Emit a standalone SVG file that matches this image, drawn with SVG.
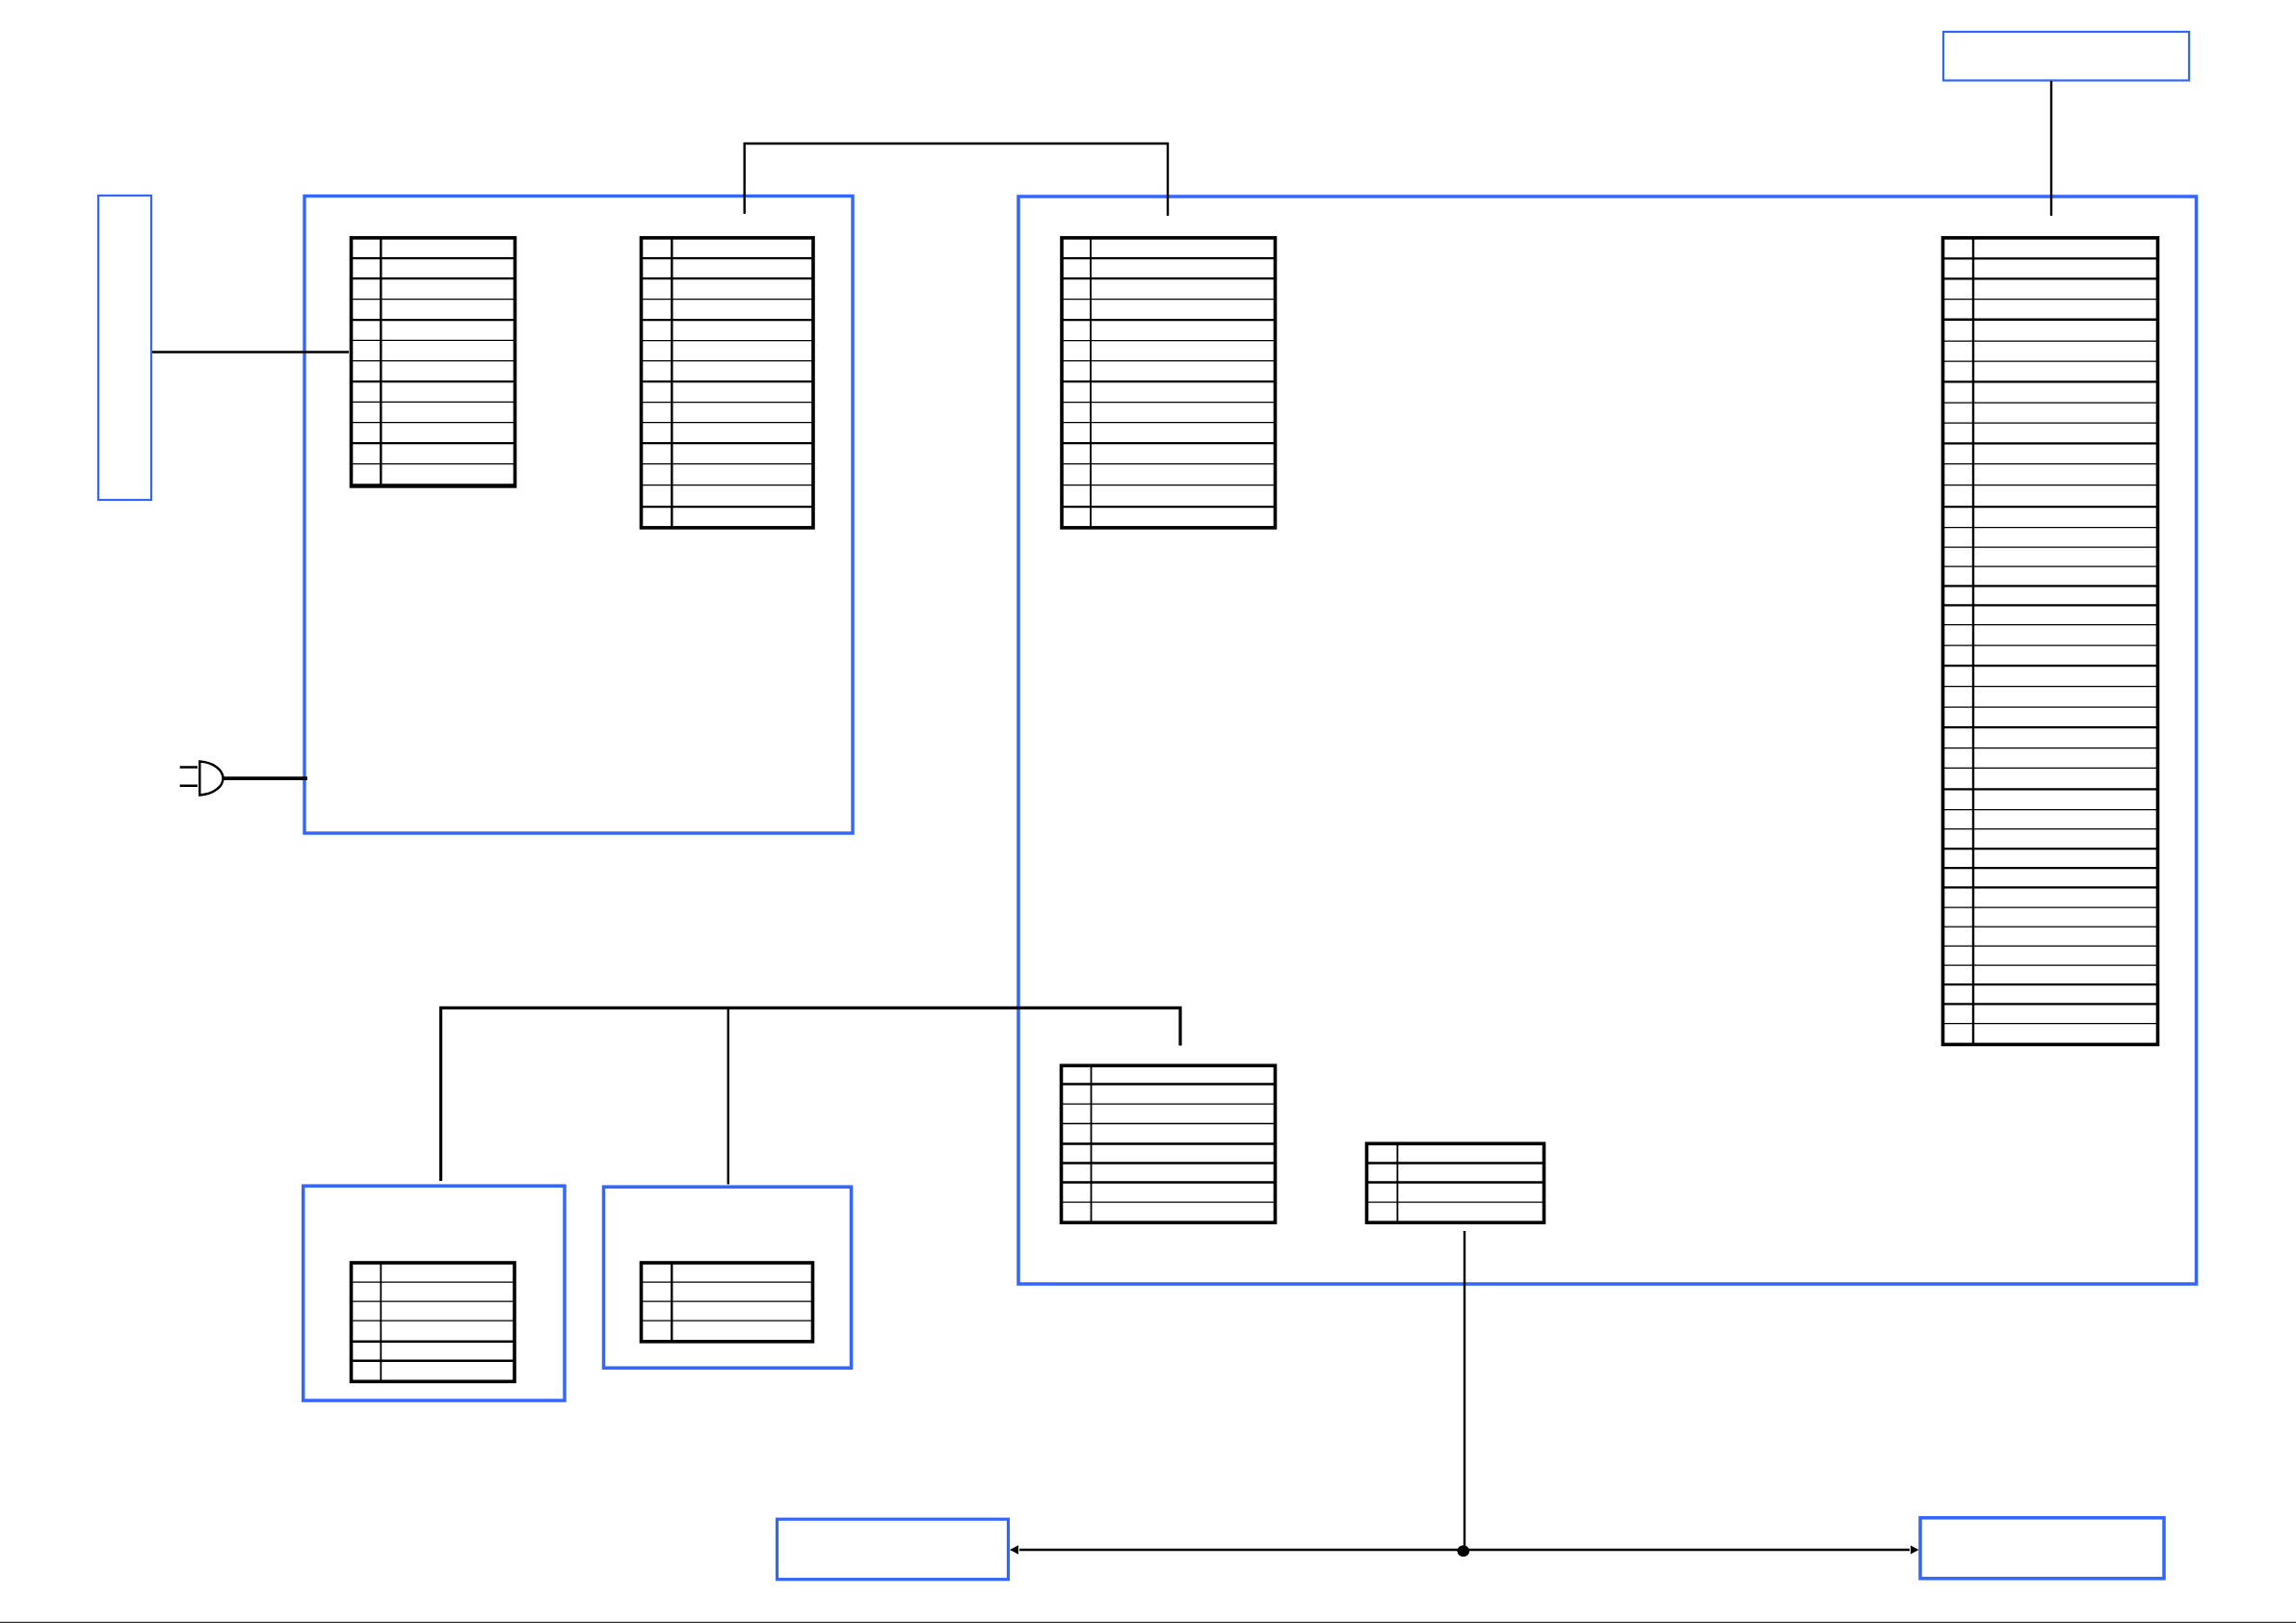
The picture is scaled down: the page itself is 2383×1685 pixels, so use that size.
<svg xmlns="http://www.w3.org/2000/svg" width="2383" height="1685" viewBox="0 0 2383 1685">
<style>
.b{fill:none;stroke:#3366ff;stroke-width:3.5}
.b2{fill:none;stroke:#3366ff;stroke-width:2.2}
.f{fill:none;stroke:#000;stroke-width:3.6}
.c{fill:none;stroke:#000;stroke-width:2.4}
.n{fill:none;stroke:#000;stroke-width:1.3}
.t{fill:none;stroke:#000;stroke-width:2.4}
.k{fill:none;stroke:#000;stroke-width:3.2}
</style>
<defs>
<marker id="ah" markerUnits="userSpaceOnUse" markerWidth="10" markerHeight="10" refX="9" refY="4.7" orient="auto-start-reverse"><path d="M0 0L9 4.7L0 9.4Z" fill="#000"/></marker>
</defs>
<rect width="2383" height="1685" fill="#fff"/>
<g id="box-left"><rect class="b2" x="102" y="203" width="55" height="316"/></g>
<g id="box-top-right"><rect class="b2" x="2017" y="33" width="255" height="50.5"/></g>
<g id="box-main-a"><rect class="b" x="316" y="203.5" width="569" height="661.5" style="stroke-width:3.4"/></g>
<g id="box-main-b"><rect class="b" x="1057" y="204" width="1222.5" height="1129"/></g>
<g id="box-c"><rect class="b" x="314.7" y="1231.2" width="271.3" height="222.8"/></g>
<g id="box-d"><rect class="b" x="626.5" y="1232.2" width="257" height="188"/></g>
<g id="box-bottom-left"><rect class="b" x="806.5" y="1577.2" width="240" height="62.5" style="stroke-width:3.2"/></g>
<g id="box-bottom-right"><rect class="b" x="1993" y="1575.8" width="253" height="63"/></g>

<g id="connectors">
<path class="c" d="M158 365.5H362"/>
<path class="c" d="M772.7 222V149H1212V224"/>
<path class="c" d="M2129 84V224"/>
<path class="k" d="M457.5 1226V1046.4H1225V1085.5"/>
<path class="c" d="M755.8 1046.4V1229.5"/>
<path class="c" d="M1520 1278V1609"/>
<path class="c" d="M1058 1609H1982" style="stroke-width:2.6"/>
<path d="M1519 1609H1048" fill="none" marker-end="url(#ah)"/>
<path d="M1519 1609H1991.5" fill="none" marker-end="url(#ah)"/>
<ellipse cx="1518.8" cy="1610.3" rx="6.3" ry="6" fill="#000"/>
<path d="M231 808.2H319" class="k" style="stroke-width:3.8"/>
</g>

<g id="plug">
<path d="M207.3 790.5V825.5C222 824.5 231.5 816.5 231.5 808C231.5 799.5 222 791.5 207.3 790.5Z" fill="#fff" stroke="#000" stroke-width="2.4"/>
<path d="M186.7 796.5H205M186.7 815.8H205" class="c"/>
</g>

<g id="table-1" transform="translate(0,0.4)">
<rect class="f" x="364.5" y="246.5" width="170" height="258"/>
<path class="c" d="M395.3 246V504"/>
<path class="t" d="M364 267.7H534M364 288.7H534M364 331.7H534M364 395.7H534M364 459.7H534"/>
<path class="n" d="M364 310.3H534M364 353H534M364 374.3H534M364 417H534M364 438.3H534M364 481.3H534"/>
<path class="t" d="M364 503.5H534" style="stroke-width:3.4"/>
</g>

<g id="table-2" transform="translate(0,0.4)">
<rect class="f" x="665.5" y="246.5" width="178.5" height="301"/>
<path class="c" d="M697.3 246V547"/>
<path class="t" d="M665 267.7H844M665 288.7H844M665 331.7H844M665 395.7H844M665 459.7H844M665 525.7H844"/>
<path class="n" d="M665 310.3H844M665 353.3H844M665 374.3H844M665 417.3H844M665 438.3H844M665 481.3H844M665 503.3H844"/>
</g>

<g id="table-3" transform="translate(0,0.4)">
<rect class="f" x="1102" y="246.5" width="221.5" height="301"/>
<path class="n" d="M1132 246V547" style="stroke-width:1.8"/>
<path class="t" d="M1102 267.7H1323M1102 288.7H1323M1102 331.7H1323M1102 395.7H1323M1102 459.7H1323M1102 525.7H1323"/>
<path class="n" d="M1102 310.3H1323M1102 353.3H1323M1102 374.3H1323M1102 417.3H1323M1102 438.3H1323M1102 481.3H1323M1102 503.3H1323"/>
</g>

<g id="table-4" transform="translate(0,0.4)">
<rect class="f" x="2016.5" y="246.5" width="223" height="837.5"/>
<path class="c" d="M2048 246V1083"/>
<path class="t" d="M2017 268H2239M2017 289H2239M2017 331.3H2239M2017 396H2239M2017 460H2239M2017 525.7H2239M2017 608H2239M2017 628H2239M2017 690.7H2239M2017 754.7H2239M2017 819H2239M2017 880.7H2239M2017 900.7H2239M2017 921H2239M2017 1021.7H2239M2017 1042H2239"/>
<path class="n" d="M2017 310.3H2239M2017 353.7H2239M2017 374.7H2239M2017 417.7H2239M2017 438.7H2239M2017 481.3H2239M2017 503.3H2239M2017 547.3H2239M2017 567.7H2239M2017 587.7H2239M2017 648.3H2239M2017 669.7H2239M2017 712.3H2239M2017 733.7H2239M2017 776.3H2239M2017 797H2239M2017 840.3H2239M2017 860.3H2239M2017 941.7H2239M2017 961.7H2239M2017 981.7H2239M2017 1001.7H2239M2017 1062.3H2239"/>
</g>

<g id="table-5" transform="translate(0,0.8)">
<rect class="f" x="1101.5" y="1105.5" width="222" height="163"/>
<path class="n" d="M1132.5 1105V1268" style="stroke-width:1.8"/>
<path class="t" d="M1102 1124.7H1323M1102 1186.7H1323M1102 1206.7H1323M1102 1226.7H1323"/>
<path class="n" d="M1102 1145.3H1323M1102 1165.7H1323M1102 1247.3H1323"/>
</g>

<g id="table-6" transform="translate(0,0.8)">
<rect class="f" x="1418.5" y="1186.5" width="184" height="82"/>
<path class="n" d="M1450.4 1186V1268" style="stroke-width:1.8"/>
<path class="t" d="M1419 1206.7H1602M1419 1226.7H1602"/>
<path class="n" d="M1419 1247.3H1602"/>
</g>

<g id="table-7" transform="translate(0,0.8)">
<rect class="f" x="364.5" y="1310.2" width="169.5" height="123.3"/>
<path class="n" d="M395.3 1310V1433" style="stroke-width:1.8"/>
<path class="n" d="M364 1330.3H534M364 1350.3H534M364 1370.3H534"/>
<path class="t" d="M364 1392H534M364 1412H534"/>
</g>

<g id="table-8" transform="translate(0,0.8)">
<rect class="f" x="665.5" y="1310.2" width="178" height="81.8"/>
<path class="c" d="M697.2 1310V1392"/>
<path class="n" d="M665 1330.3H843M665 1350.3H843M665 1370.3H843"/>
</g>

<path id="page-edge" d="M0 1684.3H2383" stroke="#000" stroke-width="1" fill="none"/>
</svg>
